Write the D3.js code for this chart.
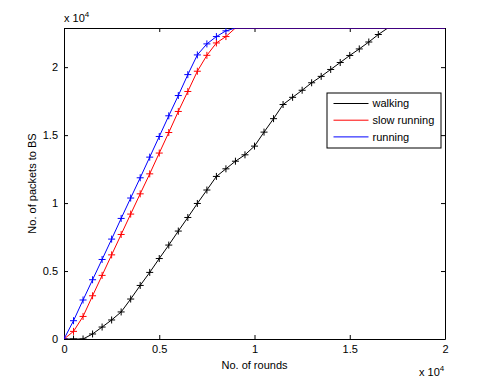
<!DOCTYPE html>
<html>
<head>
<meta charset="utf-8">
<script src="https://cdn.jsdelivr.net/npm/d3@7"></script>
<style>
  body { margin: 0; background: #fff; }
  text { font-family: "Liberation Sans", Arial, sans-serif; fill: #000; }
  .axis path, .axis line { stroke: #000; }
  .axis text { font-size: 11px; }
</style>
</head>
<body>
<div id="chart"></div>
<script>
// Datos (rounds, packets to BS)
const rounds = [0, 500, 1000, 1500, 2000, 2500, 3000, 3500, 4000, 4500, 5000, 5500, 6000, 6500,
  7000, 7500, 8000, 8500, 9000, 9500, 10000, 10500, 11000, 11500, 12000, 12500, 13000, 13500,
  14000, 14500, 15000, 15500, 16000, 16500, 17000]
const walking = [0, 0, 0, 370, 880, 1400, 1990, 2940, 3940, 4900, 5920, 6910, 7940, 8940,
  9970, 10960, 11960, 12520, 13080, 13550, 14190, 15220, 16210, 17250, 17780, 18300, 18850, 19320,
  19830, 20340, 20860, 21340, 21850, 22400, 22880]
const slowRunning = [0, 560, 1660, 3180, 4680, 6190, 7690, 9190, 10680, 12150, 13680, 15190, 16740, 18210,
  19700, 20870, 21780, 22250, 22880]
const running = [0, 1346, 2870, 4360, 5850, 7350, 8870, 10370, 11860, 13380, 14900, 16420, 17910, 19450,
  20900, 21710, 22250, 22670, 22880]
const lastRound = 20000
const maxPackets = 22880
const tickValues = [0, 5000, 10000, 15000, 20000]
const tickLabels = ["0", "0.5", "1", "1.5", "2"]

const series = [
  {name: "walking", values: walking, color: "#000000"},
  {name: "slow running", values: slowRunning, color: "#ff0000"},
  {name: "running", values: running, color: "#0000ff"}
]

//Constantes
const width = 491
const height = 382
const margin = {top: 28, bottom: 43, left: 64, right: 46}
const w = width - margin.left - margin.right
const h = height - margin.top - margin.bottom

const svg = d3.select("#chart").append("svg")
  .attr("width", width)
  .attr("height", height)

svg.append("defs").append("clipPath").attr("id", "clip")
  .append("rect").attr("width", w).attr("height", h)

const x = d3.scaleLinear().domain([0, lastRound]).range([0, w])
const y = d3.scaleLinear().domain([0, maxPackets]).range([h, 0])

const g = svg.append("g").attr("transform", `translate(${margin.left}, ${margin.top})`)

// Ejes (ticks hacia dentro, caja completa)
const fmt = (d, i) => tickLabels[i]
g.append("g").attr("class", "axis")
  .attr("transform", `translate(0, ${h})`)
  .call(d3.axisBottom(x).tickValues(tickValues).tickFormat(fmt).tickSizeInner(-4).tickSizeOuter(0).tickPadding(6))
g.append("g").attr("class", "axis")
  .call(d3.axisTop(x).tickValues(tickValues).tickFormat("").tickSizeInner(-4).tickSizeOuter(0))
g.append("g").attr("class", "axis")
  .call(d3.axisLeft(y).tickValues(tickValues).tickFormat(fmt).tickSizeInner(-4).tickSizeOuter(0).tickPadding(6))
g.append("g").attr("class", "axis")
  .attr("transform", `translate(${w}, 0)`)
  .call(d3.axisRight(y).tickValues(tickValues).tickFormat("").tickSizeInner(-4).tickSizeOuter(0))

// Lineas
const line = d3.line().x(d => x(d[0])).y(d => y(d[1]))
const plot = g.append("g").attr("clip-path", "url(#clip)")

series.forEach(s => {
  const pts = s.values.map((v, i) => [rounds[i], v])
  plot.append("path")
    .datum(pts.concat([[lastRound, maxPackets]]))
    .attr("fill", "none")
    .attr("stroke", s.color)
    .attr("stroke-width", 1)
    .attr("d", line)
  plot.selectAll(null)
    .data(pts.filter(d => d[1] < maxPackets))
    .enter().append("path")
    .attr("fill", "none")
    .attr("stroke", s.color)
    .attr("stroke-width", 1)
    .attr("d", d => {
      const cx = x(d[0]), cy = y(d[1])
      return `M${cx - 3.5},${cy}H${cx + 3.5}M${cx},${cy - 3.5}V${cy + 3.5}`
    })
})

// Etiquetas
svg.append("text")
  .attr("x", margin.left + w / 2)
  .attr("y", 369)
  .attr("text-anchor", "middle")
  .style("font-size", "11px")
  .text("No. of rounds")

svg.append("text")
  .attr("transform", `translate(36, ${margin.top + h / 2}) rotate(-90)`)
  .attr("text-anchor", "middle")
  .style("font-size", "11px")
  .text("No. of packets to BS")

const expo = (xx, yy) => {
  const t = svg.append("text").attr("x", xx).attr("y", yy).style("font-size", "11px")
  t.append("tspan").text("x 10")
  t.append("tspan").attr("dy", -5).style("font-size", "8px").text("4")
}
expo(margin.left, 22)
expo(419, 376)

// Leyenda
const leyenda = svg.append("g").attr("transform", "translate(327, 93)")
leyenda.append("rect")
  .attr("width", 114).attr("height", 55)
  .attr("fill", "#fff").attr("stroke", "#000").attr("stroke-width", 1)
const items = leyenda.selectAll(".leyenda-item")
  .data(series).enter().append("g")
  .attr("transform", (d, i) => `translate(0, ${10.5 + i * 16.7})`)
items.append("line")
  .attr("x1", 6.5).attr("x2", 41.5)
  .attr("stroke", d => d.color).attr("stroke-width", 1)
items.append("text")
  .attr("x", 45.5).attr("dy", "0.35em")
  .style("font-size", "11px")
  .text(d => d.name)
</script>
</body>
</html>
